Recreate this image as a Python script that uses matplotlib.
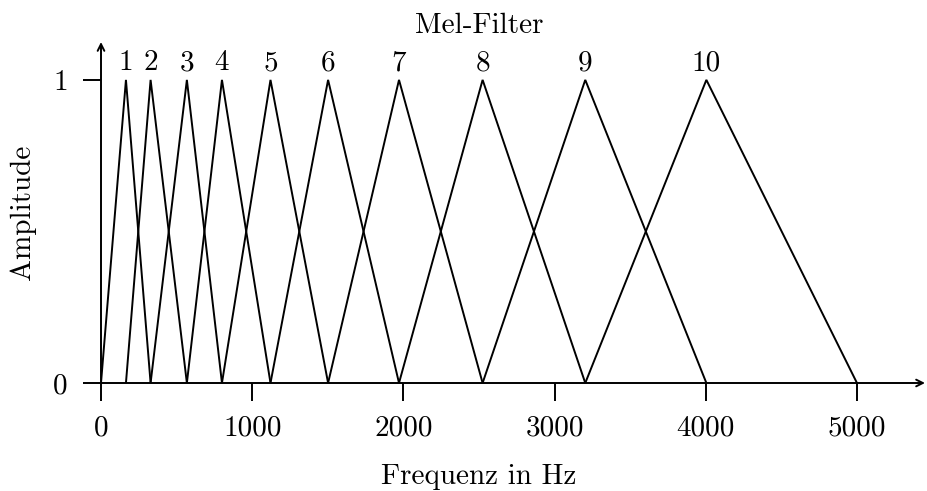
import matplotlib
matplotlib.use("Agg")
import matplotlib.pyplot as plt

# Mel filter peak frequencies (Hz); first/last are the band edges
edges = [0, 165, 328, 568, 800, 1121, 1502, 1971, 2524, 3203, 4004, 5000]
filter_labels = ["1", "2", "3", "4", "5", "6", "7", "8", "9", "10"]
x_ticks = [0, 1000, 2000, 3000, 4000, 5000]
y_ticks = [0, 1]

plt.rcParams["font.family"] = "serif"
plt.rcParams["font.serif"] = ["cmr10"]
plt.rcParams["axes.formatter.use_mathtext"] = True

fs = 21

fig = plt.figure(figsize=(9.28, 4.91), dpi=100)
ax = fig.add_axes([101 / 928, 1 - 383 / 491, 824 / 928, 341 / 491])
ax.set_xlim(0, 5450)
ax.set_ylim(0, 1.125)

# triangular filters
for i, lab in enumerate(filter_labels):
    lo, mid, hi = edges[i], edges[i + 1], edges[i + 2]
    ax.plot([lo, mid, hi], [0, 1, 0], color="k", lw=1.4, solid_joinstyle="miter")
    ax.annotate(lab, (mid, 1), xytext=(0, 7), textcoords="offset points",
                ha="center", va="baseline", fontsize=fs)

# axes with arrows
for s in ax.spines.values():
    s.set_visible(False)
ax.annotate("", xy=(1, 0), xytext=(0, 0), xycoords="axes fraction",
            arrowprops=dict(arrowstyle="->", lw=1.4, color="k",
                            shrinkA=0, shrinkB=0, mutation_scale=12))
ax.annotate("", xy=(0, 1), xytext=(0, 0), xycoords="axes fraction",
            arrowprops=dict(arrowstyle="->", lw=1.4, color="k",
                            shrinkA=0, shrinkB=0, mutation_scale=12))

ax.set_xticks(x_ticks)
ax.set_xticklabels([str(t) for t in x_ticks])
ax.set_yticks(y_ticks)
ax.set_yticklabels([str(t) for t in y_ticks])
ax.tick_params(direction="out", length=13, width=1.4, labelsize=fs, color="k")
ax.tick_params(axis="x", pad=10)
ax.tick_params(axis="y", pad=11)

ax.text(2500, 1.155, "Mel-Filter", ha="center", va="baseline", fontsize=fs)
ax.text(2500, -0.296, "Frequenz in Hz", ha="center", va="baseline", fontsize=fs,
        transform=ax.get_xaxis_transform())
ax.text(-0.095, 0.5, "Amplitude", rotation=90, ha="center", va="center",
        fontsize=fs, transform=ax.transAxes)

fig.savefig("out.png", dpi=100)
